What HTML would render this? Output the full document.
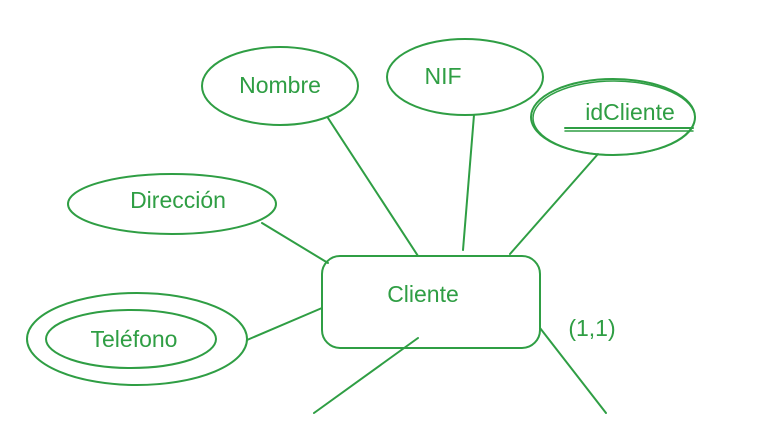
<!DOCTYPE html>
<html><head><meta charset="utf-8"><style>
html,body{margin:0;padding:0;background:#fff;}
svg{display:block}
text{font-family:"Liberation Sans",sans-serif;fill:#2f9e44;font-size:23px;}
</style></head><body>
<svg width="780" height="423" viewBox="0 0 780 423" xmlns="http://www.w3.org/2000/svg">
<g fill="none" stroke="#2f9e44" stroke-width="2" stroke-linecap="round">
<ellipse cx="280" cy="86" rx="78" ry="39"/>
<ellipse cx="465" cy="77" rx="78" ry="38"/>
<ellipse cx="613" cy="117" rx="82" ry="38"/>
<ellipse cx="614" cy="118" rx="81" ry="37" stroke-width="1.5"/>
<ellipse cx="172" cy="204" rx="104" ry="30"/>
<ellipse cx="137" cy="339" rx="110" ry="46"/>
<ellipse cx="131" cy="339" rx="85" ry="29"/>
<rect x="322" y="256" width="218" height="92" rx="18"/>
<line x1="328" y1="118" x2="418" y2="256"/>
<line x1="474" y1="115" x2="463" y2="250"/>
<line x1="598" y1="154" x2="510" y2="254"/>
<line x1="262" y1="223" x2="328" y2="263"/>
<line x1="247" y1="340" x2="322" y2="308"/>
<line x1="418" y1="338" x2="314" y2="413"/>
<line x1="540" y1="328" x2="606" y2="413"/>
<line x1="565" y1="128" x2="693" y2="128"/>
<line x1="565" y1="131" x2="693" y2="131" stroke-width="1.5"/>
</g>
<text x="280" y="93" text-anchor="middle">Nombre</text>
<text x="443" y="84" text-anchor="middle">NIF</text>
<text x="630" y="120" text-anchor="middle">idCliente</text>
<text x="178" y="208" text-anchor="middle">Dirección</text>
<text x="134" y="347" text-anchor="middle">Teléfono</text>
<text x="423" y="302" text-anchor="middle">Cliente</text>
<text x="592" y="336" text-anchor="middle">(1,1)</text>
</svg>
</body></html>
